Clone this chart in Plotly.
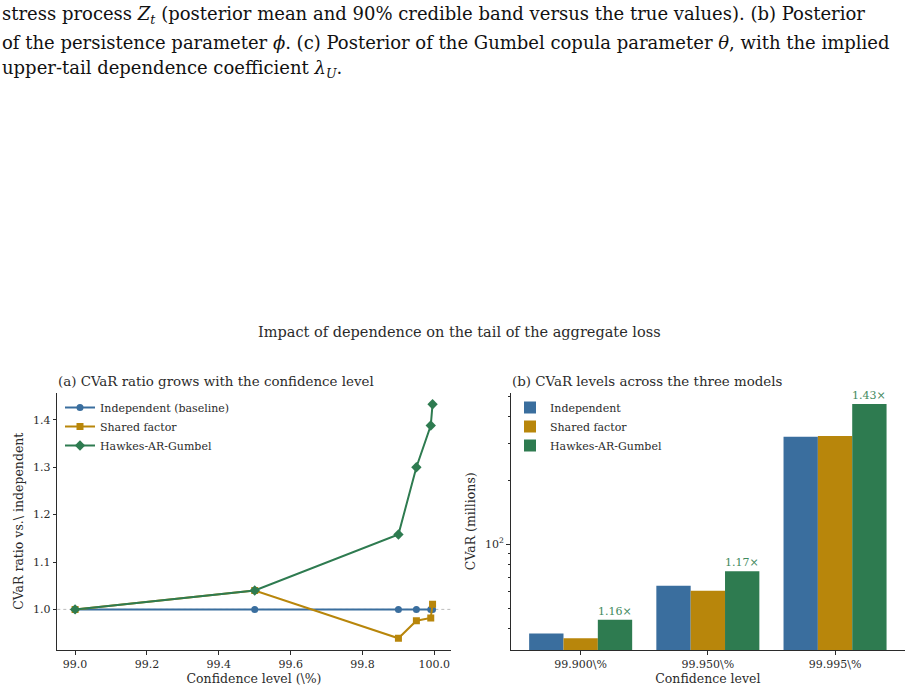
import math
import plotly.graph_objects as go

W, H = 918, 692

# ---------------- data ----------------
conf_levels = [99.0, 99.5, 99.9, 99.95, 99.99, 99.995]
ratio_independent = [1.0, 1.0, 1.0, 1.0, 1.0, 1.0]
ratio_shared = [1.0, 1.04, 0.939, 0.976, 0.982, 1.011]
ratio_hawkes = [1.0, 1.04, 1.158, 1.300, 1.388, 1.433]

bar_categories = ["99.900\\%", "99.950\\%", "99.995\\%"]
cvar_independent = [38.0, 63.8, 321.0]
cvar_shared = [36.0, 60.3, 324.0]
cvar_hawkes = [44.1, 74.6, 459.0]

series_names_a = ["Independent (baseline)", "Shared factor", "Hawkes-AR-Gumbel"]
series_names_b = ["Independent", "Shared factor", "Hawkes-AR-Gumbel"]

x_ticks_a = [99.0, 99.2, 99.4, 99.6, 99.8, 100.0]
y_ticks_a = [1.0, 1.1, 1.2, 1.3, 1.4]

BLUE = "#3A6E9E"
GOLD = "#B8860B"
GREEN = "#2E7B50"
AX = "#2b2b2b"
SERIF = "DejaVu Serif"

def px_x(p):
    return p / W

def px_y(p):
    return 1 - p / H

fig = go.Figure()

# ---------------- panel (a) ----------------
for name, vals, col, sym in zip(series_names_a,
                                [ratio_independent, ratio_shared, ratio_hawkes],
                                [BLUE, GOLD, GREEN],
                                ["circle", "square", "diamond"]):
    fig.add_trace(go.Scatter(
        x=conf_levels, y=vals, name=name, mode="lines+markers",
        line=dict(color=col, width=2),
        marker=dict(symbol=sym, size=7 if sym != "diamond" else 8, color=col),
        xaxis="x", yaxis="y", legend="legend",
    ))

# ---------------- panel (b) ----------------
for name, vals, col in zip(series_names_b,
                           [cvar_independent, cvar_shared, cvar_hawkes],
                           [BLUE, GOLD, GREEN]):
    fig.add_trace(go.Bar(
        x=bar_categories, y=vals, name=name, marker=dict(color=col, line=dict(width=0)),
        xaxis="x2", yaxis="y2", legend="legend2",
    ))

# ratio labels above Hawkes bars
for cat, ind, hk in zip(bar_categories, cvar_independent, cvar_hawkes):
    fig.add_annotation(
        x=cat, y=math.log10(hk), xref="x2", yref="y2",
        text=f"{hk / ind:.2f}×", showarrow=False,
        xshift=34, yanchor="bottom", yshift=0,
        font=dict(family=SERIF, size=11, color="#3F8A5E"),
    )

dom_y = [px_y(650), px_y(392.5)]
tickfont = dict(family=SERIF, size=11, color=AX)
titlefont = dict(family=SERIF, size=12.5, color=AX)
legfont = dict(family=SERIF, size=11, color=AX)

fig.update_layout(
    width=W, height=H,
    margin=dict(l=0, r=0, t=0, b=0),
    paper_bgcolor="white", plot_bgcolor="white",
    barmode="group", bargap=0.19, bargroupgap=0,
    font=dict(family=SERIF, color=AX),
    xaxis=dict(
        domain=[px_x(57.3), px_x(450.7)], range=[98.9505, 100.0455],
        tickvals=x_ticks_a, ticktext=[f"{v:.1f}" for v in x_ticks_a],
        ticks="outside", ticklen=3.5, tickwidth=1, tickcolor=AX,
        showline=True, linecolor=AX, linewidth=1, showgrid=False, zeroline=False,
        tickfont=tickfont,
        title=dict(text="Confidence level (\\%)", font=titlefont, standoff=3),
        anchor="y",
    ),
    yaxis=dict(
        domain=dom_y, range=[0.9143, 1.4577],
        tickvals=y_ticks_a, ticktext=[f"{v:.1f}" for v in y_ticks_a],
        ticks="outside", ticklen=3.5, tickwidth=1, tickcolor=AX,
        showline=True, linecolor=AX, linewidth=1, showgrid=False, zeroline=False,
        tickfont=tickfont,
        title=dict(text="CVaR ratio vs.\\ independent", font=titlefont, standoff=6),
        anchor="x",
    ),
    xaxis2=dict(
        domain=[px_x(510.7), px_x(905)], range=[-0.55, 2.55], type="category",
        ticks="outside", ticklen=3.5, tickwidth=1, tickcolor=AX,
        showline=True, linecolor=AX, linewidth=1, showgrid=False, zeroline=False,
        tickfont=tickfont,
        title=dict(text="Confidence level", font=titlefont, standoff=3),
        anchor="y2",
    ),
    yaxis2=dict(
        domain=dom_y, type="log", range=[1.5014, 2.7155],
        tickvals=[100], ticktext=["10<sup>2</sup>"],
        ticks="outside", ticklen=3.5, tickwidth=1, tickcolor=AX,
        minor=dict(tickvals=[40, 50, 60, 70, 80, 90, 200, 300, 400, 500],
                   ticks="outside", ticklen=2, tickwidth=0.8, tickcolor=AX, showgrid=False),
        showline=True, linecolor=AX, linewidth=1, showgrid=False, zeroline=False,
        tickfont=tickfont,
        title=dict(text="CVaR (millions)", font=titlefont, standoff=6),
        anchor="x2",
    ),
    legend=dict(
        x=px_x(60), y=px_y(393), xanchor="left", yanchor="top",
        bgcolor="rgba(0,0,0,0)", font=legfont,
        itemwidth=30, tracegroupgap=0,
    ),
    legend2=dict(
        x=px_x(510), y=px_y(393), xanchor="left", yanchor="top",
        bgcolor="rgba(0,0,0,0)", font=legfont,
        itemwidth=30, tracegroupgap=0,
    ),
    showlegend=True,
)

# dotted reference line at 1.0
fig.add_shape(type="line", xref="x domain", yref="y", x0=0, x1=1, y0=1.0, y1=1.0,
              line=dict(color="#BBBBBB", width=1, dash="dot"), layer="below")

# titles
fig.add_annotation(x=px_x(459), y=px_y(332), xref="paper", yref="paper",
                   text="Impact of dependence on the tail of the aggregate loss",
                   showarrow=False, xanchor="center", yanchor="middle",
                   font=dict(family=SERIF, size=14.5, color=AX))
fig.add_annotation(x=px_x(56), y=px_y(381), xref="paper", yref="paper",
                   text="(a) CVaR ratio grows with the confidence level",
                   showarrow=False, xanchor="left", yanchor="middle",
                   font=dict(family=SERIF, size=13.4, color=AX))
fig.add_annotation(x=px_x(510), y=px_y(381), xref="paper", yref="paper",
                   text="(b) CVaR levels across the three models",
                   showarrow=False, xanchor="left", yanchor="middle",
                   font=dict(family=SERIF, size=13.4, color=AX))

# caption text from the page above the figure
caption_lines = [
    "stress process <i>Z<sub>t</sub></i> (posterior mean and 90% credible band versus the true values). (b) Posterior",
    "of the persistence parameter <i>ϕ</i>. (c) Posterior of the Gumbel copula parameter <i>θ</i>, with the implied",
    "upper-tail dependence coefficient <i>λ<sub>U</sub></i>.",
]
for i, line in enumerate(caption_lines):
    fig.add_annotation(x=0, y=px_y(15 + 27 * i), xref="paper", yref="paper",
                       text=line, showarrow=False, xanchor="left", yanchor="middle",
                       font=dict(family="DejaVu Serif", size=18, color="#111111"))

fig.write_html("out.html")
